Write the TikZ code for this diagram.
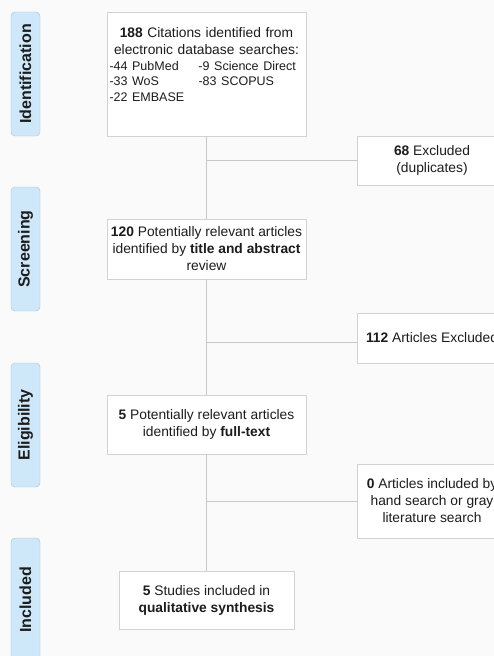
\documentclass[tikz,border=0pt]{standalone}
\usepackage{fontspec}
\setmainfont{Liberation Sans}
\usetikzlibrary{positioning,calc}
\definecolor{pagebg}{RGB}{250,250,250}
\definecolor{boxline}{RGB}{210,210,210}
\definecolor{linkgray}{RGB}{200,200,200}
\definecolor{stagefill}{RGB}{206,232,250}
\definecolor{stageline}{RGB}{170,192,208}
\definecolor{ink}{RGB}{28,28,28}

\tikzset{
  flowbox/.style={draw=boxline,fill=white,line width=0.9pt,inner sep=2pt,align=center,
    text=ink,font=\fontsize{13.8}{17}\selectfont},
  stage/.style={draw=stageline,fill=stagefill,rounded corners=4pt,rotate=90,
    minimum width=124pt,minimum height=29pt,inner sep=0pt,
    font=\fontsize{16}{19}\selectfont\bfseries,text=ink},
  link/.style={draw=linkgray,line width=0.8pt}
}

\begin{document}
\begin{tikzpicture}[x=1pt,y=-1pt]
\useasboundingbox (0,0) rectangle (494,656);
\clip (0,0) rectangle (494,656);
\fill[pagebg] (0,0) rectangle (494,656);
% phase labels
\foreach \nm/\yc/\lb in {idl/74/Identification, scl/249/Screening, ell/425/Eligibility, inl/600/Included}
  \node[stage] (\nm) at (25.5,\yc) {\lb};
% main column
\node[flowbox,minimum width=199pt,minimum height=124pt] (srch) at (206.5,74) {};
\node[anchor=north,text width=194pt,align=left,inner sep=0pt,text=ink,
  font=\fontsize{13.8}{17}\selectfont] (srchtxt) at ([yshift=-16pt]srch.north)
  {{\centering\textbf{188} Citations identified from\\electronic database searches:\par}
   {\fontsize{12.5}{15.5}\selectfont
   \makebox[89pt][l]{-44 PubMed}-9 Science Direct\\
   \makebox[89pt][l]{-33 WoS}-83 SCOPUS\\
   -22 EMBASE\par}};
\node[flowbox,minimum width=199pt,minimum height=60pt] (scr) at (206.5,249)
  {\textbf{120} Potentially relevant articles\\identified by \textbf{title and abstract}\\review};
\node[flowbox,minimum width=199pt,minimum height=59pt] (ful) at (206.5,424.5)
  {\textbf{5} Potentially relevant articles\\identified by \textbf{full-text}};
\node[flowbox,minimum width=175pt,minimum height=58pt] (inc) at (206.5,600)
  {\textbf{5} Studies included in\\\textbf{qualitative synthesis}};
% side boxes (cut by the right edge)
\node[flowbox,minimum width=150pt,minimum height=49pt] (dup) at (432,160.5)
  {\textbf{68} Excluded\\(duplicates)};
\node[flowbox,minimum width=150pt,minimum height=50pt] (excl) at (432,338)
  {\textbf{112} Articles Excluded};
\node[flowbox,minimum width=150pt,minimum height=74pt] (hand) at (432,501)
  {\textbf{0} Articles included by\\hand search or gray\\literature search};
% connectors
\coordinate (j1) at (206.5,160);
\coordinate (j2) at (206.5,342);
\coordinate (j3) at (206.5,501);
\draw[link] (srch) -- (scr);
\draw[link] (scr) -- (ful);
\draw[link] (ful) -- (inc);
\draw[link] (j1) -- (j1 -| dup.west);
\draw[link] (j2) -- (j2 -| excl.west);
\draw[link] (j3) -- (j3 -| hand.west);
\end{tikzpicture}
\end{document}
